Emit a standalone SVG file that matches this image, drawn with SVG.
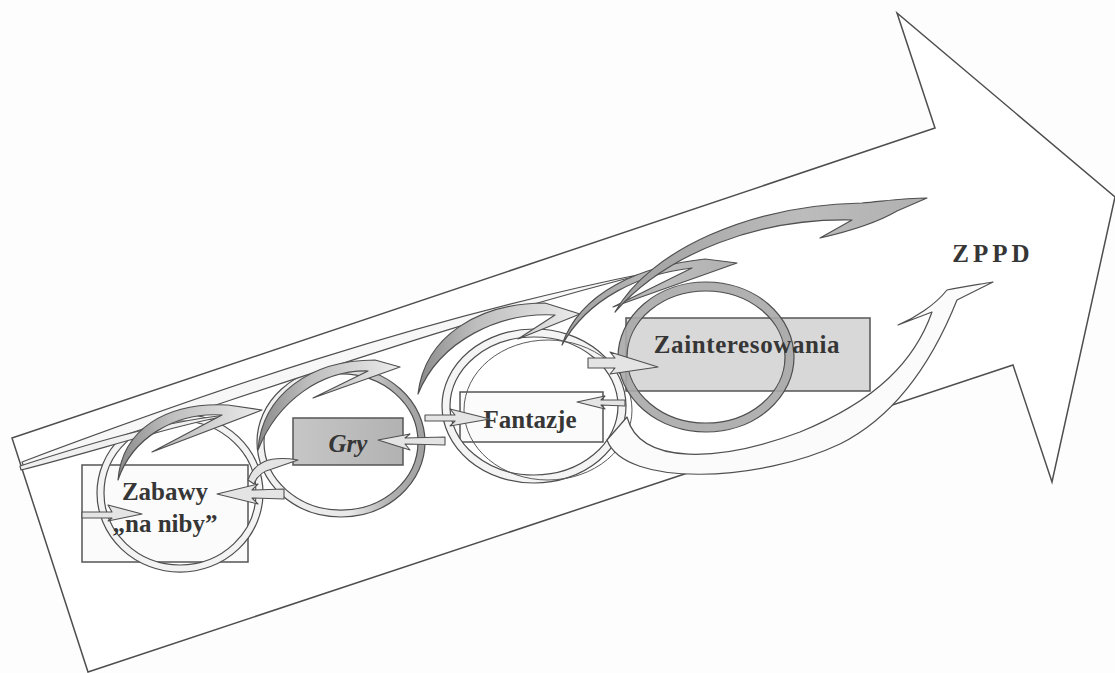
<svg xmlns="http://www.w3.org/2000/svg" width="1115" height="673" viewBox="0 0 1115 673">
<style>
.ln{stroke:#505050;stroke-width:1.2;stroke-linejoin:round}
.box{stroke:#555;stroke-width:1.5}
.lbl{font-family:"Liberation Serif","Times New Roman",serif;font-weight:bold;font-size:25px;fill:#363636;text-anchor:middle}
.ring{stroke:#4e4e4e;stroke-width:1.2;fill-rule:evenodd}
.spear{fill:#e4e4e4;stroke:#505050;stroke-width:1.1;stroke-linejoin:round}
</style>
<defs>
<linearGradient id="gDark" x1="0" y1="0" x2="1" y2="0">
<stop offset="0" stop-color="#8a8a8a"/><stop offset="0.35" stop-color="#bdbdbd"/><stop offset="1" stop-color="#ececec"/>
</linearGradient>
<linearGradient id="gMid" x1="0" y1="0" x2="1" y2="0">
<stop offset="0" stop-color="#a0a0a0"/><stop offset="0.6" stop-color="#bcbcbc"/><stop offset="1" stop-color="#b0b0b0"/>
</linearGradient>
<linearGradient id="gC2" x1="0" y1="0" x2="1" y2="0">
<stop offset="0" stop-color="#f2f2f2"/><stop offset="0.55" stop-color="#e8e8e8"/><stop offset="0.8" stop-color="#b0b0b0"/><stop offset="1" stop-color="#a0a0a0"/>
</linearGradient>
<linearGradient id="gGry" x1="0" y1="0" x2="1" y2="0">
<stop offset="0" stop-color="#c6c6c6"/><stop offset="1" stop-color="#b2b2b2"/>
</linearGradient>
</defs>
<rect width="1115" height="673" fill="#fdfdfd"/>

<g id="big-arrow">
<polygon points="12,438 935,128 897,13 1115,197 1052,482 1013,365 88,672" fill="#ffffff" stroke="#4e4e4e" stroke-width="1.5" stroke-linejoin="miter"/>
</g>

<g id="node-zabawy">
<rect class="box" x="82" y="465" width="166" height="97" fill="#fbfbfb"/>
<path class="ring" fill="#f3f3f3" d="M97,493 a83,79 0 1,0 166,0 a83,79 0 1,0 -166,0 Z M104,493 a76,72 0 1,0 152,0 a76,72 0 1,0 -152,0 Z"/>
<text class="lbl" x="165" y="500">Zabawy</text>
<text class="lbl" x="165" y="532">„na niby”</text>
</g>

<g id="node-gry">
<rect class="box" x="293" y="418" width="110" height="47" fill="url(#gGry)"/>
<path class="ring" fill="url(#gC2)" d="M257,442 a84,75 0 1,0 168,0 a84,75 0 1,0 -168,0 Z M264,442 a77,68 0 1,0 154,0 a77,68 0 1,0 -154,0 Z"/>
<text class="lbl" x="348" y="452" font-style="italic">Gry</text>
</g>

<g id="node-fantazje">
<rect class="box" x="460" y="392" width="143" height="50" fill="#fbfbfb"/>
<path class="ring" fill="#f4f4f4" d="M442,406 a92,77 0 1,0 184,0 a92,77 0 1,0 -184,0 Z M450,406 a84,69 0 1,0 168,0 a84,69 0 1,0 -168,0 Z"/>
<ellipse cx="548" cy="410" rx="84" ry="70" fill="none" stroke="#5a5a5a" stroke-width="1"/>
<text class="lbl" x="530" y="428">Fantazje</text>
</g>

<g id="node-zainteresowania">
<rect class="box" x="626" y="318" width="244" height="73" fill="#d8d8d8"/>
<path class="ring" fill="#a9a9a9" fill-opacity="0.9" d="M618,357 a88,75 0 1,0 176,0 a88,75 0 1,0 -176,0 Z M627,357 a79,66 0 1,0 158,0 a79,66 0 1,0 -158,0 Z"/>
<text class="lbl" x="747" y="353" letter-spacing="0.6">Zainteresowania</text>
</g>

<g id="node-zppd">
<text class="lbl" x="993" y="262" font-size="30" letter-spacing="4">ZPPD</text>
</g>

<g id="connectors">
<!-- long thin sweeps from the tail of the big arrow -->
<path class="ln" fill="#f7f7f7" d="M22,462 C200,395 420,318 652,272 C430,328 210,410 24,467 Z"/>
<path class="ln" fill="#f0f0f0" d="M20,466 C100,440 170,420 236,414 C170,426 100,450 21,470 Z"/>
<!-- crescent hook arrows linking the circles -->
<path class="ln" fill="url(#gDark)" d="M118,480 C122,430 165,402 228,405 L262,410 L152,452 L222,415 C175,412 132,438 118,480 Z"/>
<path class="ln" fill="url(#gDark)" d="M258,450 C262,395 310,360 375,360 L400,367 L313,398 L368,371 C322,370 278,400 258,450 Z"/>
<path class="ln" fill="url(#gDark)" d="M418,394 C425,335 480,303 545,303 L580,314 L518,339 L555,315 C500,312 440,340 418,394 Z"/>
<path class="ln" fill="url(#gMid)" d="M562,345 C580,292 640,266 705,259 L737,263 L613,307 L692,268 C640,274 588,298 562,345 Z"/>
<path class="ln" fill="url(#gMid)" d="M615,312 C650,250 750,205 862,203 C885,201 905,198 927,198 L897,211 C880,221 855,230 820,238 L852,220 C760,218 668,252 615,312 Z"/>
<!-- lower sweep towards ZPPD -->
<path class="ln" fill="#fbfbfb" d="M607,440 C625,488 760,482 840,444 C900,414 935,355 957,300 L993,282 C975,285 960,287 947,290 C935,305 915,318 898,325 L932,312 C915,360 878,400 800,432 C720,462 640,466 627,417 Z"/>
<!-- short arrows between circles and labels -->
<path class="spear" d="M217,494 L258,484 L252,490 L284,489 L284,499 L252,498 L258,504 Z"/>
<path class="spear" d="M82,512 L112,512 L108,505 L142,514 L108,521 L112,518 L82,518 Z"/>
<path class="spear" d="M248,480 C254,463 268,455 298,460 L272,469 C263,471 257,476 254,484 Z"/>
<path class="spear" d="M378,440 L410,434 L405,438 L445,437 L445,445 L405,444 L410,450 Z"/>
<path class="spear" d="M425,415 L455,415 L450,409 L490,419 L450,426 L455,421 L425,421 Z"/>
<path class="spear" d="M577,402 L605,396 L601,400 L625,400 L625,406 L601,405 L605,409 Z"/>
<path class="spear" d="M588,358 L615,358 L610,352 L658,367 L610,374 L615,368 L588,368 Z"/>
</g>
</svg>
